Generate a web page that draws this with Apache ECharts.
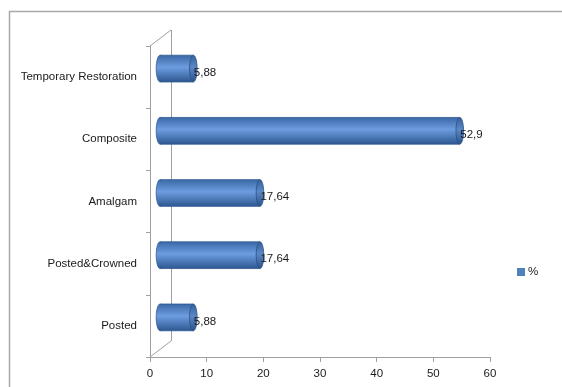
<!DOCTYPE html>
<html><head><meta charset="utf-8">
<script src="https://cdn.jsdelivr.net/npm/echarts@6/dist/echarts.min.js"></script>
<style>html,body{margin:0;padding:0;background:#fff}#c{width:562px;height:387px}</style>
</head><body><div id="c"></div>
<script>
const categories = ['Posted', 'Posted&Crowned', 'Amalgam', 'Composite', 'Temporary Restoration'];
const values = [5.88, 17.64, 17.64, 52.9, 5.88];
const xTicks = [0, 10, 20, 30, 40, 50, 60];
const seriesName = '%';

const GL = 150, GT = 46, GR = 72, GB = 30, W = 562, H = 387;
const DX = 21, DY = -16;       // depth of the 3D wall
const BX = 10, BY = -8.5;      // bar offset (mid depth)
const FONT = 'Liberation Sans';
const FS = 11.5;

const chart = echarts.init(document.getElementById('c'), null, {renderer: 'canvas'});
const grad = (c1, c2, c3) => new echarts.graphic.LinearGradient(0, 0, 0, 1, [
  {offset: 0, color: c1}, {offset: 0.45, color: c2}, {offset: 1, color: c3}]);

function renderItem(params, api) {
  const v = api.value(0), ci = api.value(1);
  const p0 = api.coord([0, ci]);
  const p1 = api.coord([v, ci]);
  const h = api.size([0, 1])[1] * 0.43;
  const cy = p0[1] + BY;
  const x0 = p0[0] + BX, x1 = p1[0] + BX;
  const rx = 3.8, ry = h / 2;
  const bodyFill = grad('#3b68a6', '#6d9de0', '#2d5790');
  return {
    type: 'group',
    children: [
      {type: 'ellipse', shape: {cx: x0, cy: cy, rx: rx, ry: ry},
       style: {fill: bodyFill, stroke: '#2f5a92', lineWidth: 0.8}},
      {type: 'rect', shape: {x: x0, y: cy - ry, width: x1 - x0, height: h},
       style: {fill: bodyFill}},
      {type: 'line', shape: {x1: x0, y1: cy - ry, x2: x1, y2: cy - ry},
       style: {stroke: '#2f5a92', lineWidth: 0.8}},
      {type: 'line', shape: {x1: x0, y1: cy + ry, x2: x1, y2: cy + ry},
       style: {stroke: '#2f5a92', lineWidth: 0.8}},
      {type: 'ellipse', shape: {cx: x1, cy: cy, rx: rx, ry: ry},
       style: {fill: grad('#35609b', '#5a87c6', '#2a5288'), stroke: '#284f84', lineWidth: 0.8}},
      {type: 'text', x: x1 + 0.5, y: cy + 4,
       style: {text: String(v).replace('.', ','), fill: '#1a1a1a', font: FS + 'px "' + FONT + '"',
               align: 'left', verticalAlign: 'middle'}}
    ]
  };
}

const wall = {stroke: '#a0a0a0', lineWidth: 1};
chart.setOption({
  animation: false,
  backgroundColor: '#fff',
  textStyle: {fontFamily: FONT},
  grid: {left: GL, top: GT, right: GR, bottom: GB, containLabel: false},
  legend: {
    data: [{name: seriesName, icon: 'rect'}],
    left: 517, top: 266, padding: 0, itemWidth: 8, itemHeight: 8, itemGap: 4,
    textStyle: {fontSize: FS, color: '#1a1a1a', fontFamily: FONT, padding: [0, 0, 0, -2]}
  },
  xAxis: {
    type: 'value', min: 0, max: 60, interval: 10,
    axisLine: {show: true, lineStyle: {color: '#a0a0a0', width: 1}},
    axisTick: {show: true, length: 5, lineStyle: {color: '#a0a0a0'}},
    axisLabel: {color: '#1a1a1a', fontSize: FS, margin: 11, fontFamily: FONT,
                formatter: v => xTicks.includes(v) ? String(v) : ''},
    splitLine: {show: false}
  },
  yAxis: {
    type: 'category', data: categories,
    axisLine: {show: true, lineStyle: {color: '#a0a0a0', width: 1}},
    axisTick: {show: true, length: 4, lineStyle: {color: '#a0a0a0'}},
    axisLabel: {color: '#1a1a1a', fontSize: FS, margin: 13, fontFamily: FONT}
  },
  series: [{
    name: seriesName, type: 'custom', renderItem: renderItem, z: 5,
    itemStyle: {color: '#4f81bd'},
    encode: {x: 0, y: 1},
    data: values.map((v, i) => [v, i])
  }],
  graphic: [
    {type: 'line', z: -10, shape: {x1: 9.5, y1: 11, x2: 9.5, y2: H}, style: {stroke: '#a8a8a8', lineWidth: 1.5}},
    {type: 'line', z: -10, shape: {x1: 9, y1: 11.5, x2: W, y2: 11.5}, style: {stroke: '#a8a8a8', lineWidth: 1.5}},
    {type: 'line', z: -10, shape: {x1: GL, y1: GT, x2: GL + DX, y2: GT + DY}, style: wall},
    {type: 'line', z: -10, shape: {x1: GL + DX + 0.5, y1: GT + DY, x2: GL + DX + 0.5, y2: H - GB + DY}, style: wall},
    {type: 'line', z: -10, shape: {x1: GL, y1: H - GB, x2: GL + DX, y2: H - GB + DY}, style: wall}
  ]
});
</script></body></html>
